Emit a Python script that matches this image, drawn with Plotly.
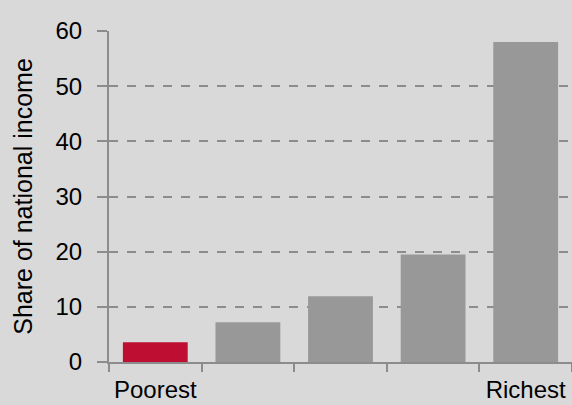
import plotly.graph_objects as go

quintiles = [0, 1, 2, 3, 4]
shares = [3.6, 7.2, 11.9, 19.5, 58.0]
x_tick_labels = ["Poorest", "", "", "", "Richest"]
y_ticks = [0, 10, 20, 30, 40, 50, 60]
bar_colors = ["#be0f32", "#989898", "#989898", "#989898", "#989898"]

AX = "#8c8c8c"
FONT = "Liberation Sans, Arial, sans-serif"

fig = go.Figure()
fig.add_trace(go.Bar(
    x=quintiles, y=shares, width=0.7,
    marker=dict(color=bar_colors, line=dict(width=0)),
    showlegend=False,
))

fig.update_layout(
    width=572, height=405,
    paper_bgcolor="#d9d9d9", plot_bgcolor="#d9d9d9",
    margin=dict(l=109, r=0, t=31, b=43),
    font=dict(family=FONT, color="#000000"),
    xaxis=dict(
        range=[-0.5, 4.5], automargin=False,
        tickvals=quintiles, ticktext=x_tick_labels,
        ticks="", tickfont=dict(size=24), ticklabelstandoff=5,
        showline=True, linecolor=AX, linewidth=2,
        showgrid=False, zeroline=False,
        minor=dict(tickvals=[-0.5, 0.5, 1.5, 2.5, 3.5, 4.5], ticks="outside",
                   ticklen=8, tickcolor=AX, tickwidth=2, showgrid=False),
    ),
    yaxis=dict(
        range=[0, 60], automargin=False,
        tickvals=y_ticks,
        ticks="outside", ticklen=10, tickcolor=AX, tickwidth=2,
        tickfont=dict(size=24), ticklabelstandoff=10,
        showline=True, linecolor=AX, linewidth=2,
        showgrid=True, gridcolor=AX, gridwidth=1.5, griddash="dash",
        zeroline=False,
        title=dict(text="Share of national income", font=dict(size=25), standoff=16),
    ),
)

fig.write_html(
    "out.html",
    config={"displayModeBar": False},
    post_script="document.body.style.margin='0';document.body.style.background='#d9d9d9';",
)
